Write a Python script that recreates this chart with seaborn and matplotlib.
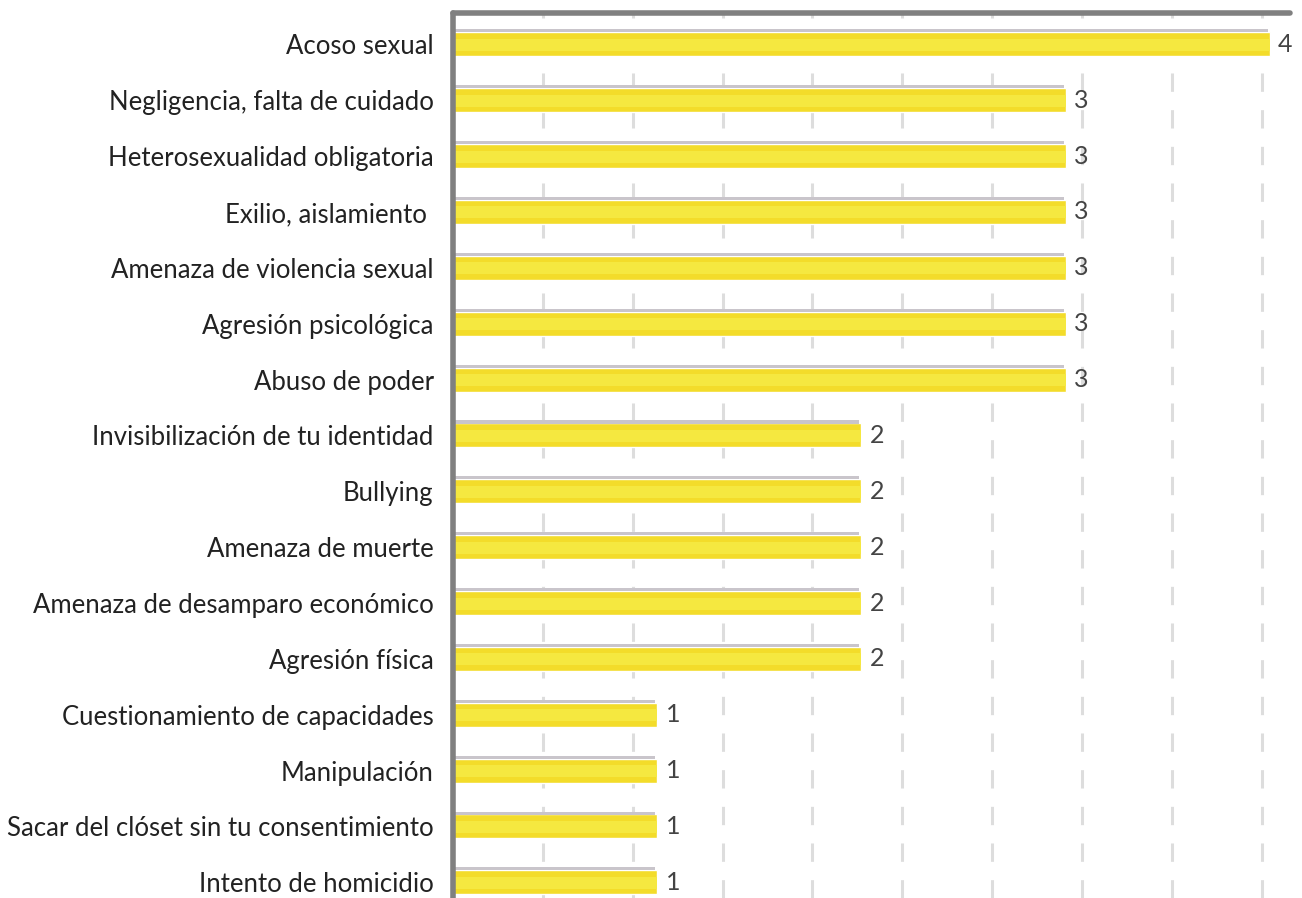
import matplotlib
matplotlib.use("Agg")
import matplotlib.pyplot as plt
import seaborn as sns
import pandas as pd
import numpy as np

# Datos
categorias = [
    "Acoso sexual",
    "Negligencia, falta de cuidado",
    "Heterosexualidad obligatoria",
    "Exilio, aislamiento ",
    "Amenaza de violencia sexual",
    "Agresión psicológica",
    "Abuso de poder",
    "Invisibilización de tu identidad",
    "Bullying",
    "Amenaza de muerte",
    "Amenaza de desamparo económico",
    "Agresión física",
    "Cuestionamiento de capacidades",
    "Manipulación",
    "Sacar del clóset sin tu consentimiento",
    "Intento de homicidio",
]
valores = [4, 3, 3, 3, 3, 3, 3, 2, 2, 2, 2, 2, 1, 1, 1, 1]

df = pd.DataFrame({"categoria": categorias, "valor": valores})

sns.set_theme(style="white")
plt.rcParams["font.family"] = ["Lato", "DejaVu Sans"]

fig = plt.figure(figsize=(13.02, 8.98), dpi=100)
ax = fig.add_axes([0.348, 0.0, 0.643, 0.9855])

alto = 0.43
amarillo_osc = "#F3DC2A"
amarillo = "#F5E840"
gris_borde = "#C9C5CB"

# barra base (franjas oscuras)
sns.barplot(data=df, y="categoria", x="valor", orient="h", color=amarillo_osc,
            width=alto, saturation=1, ax=ax, zorder=3)
barras = ax.containers[0]

pos = np.arange(len(categorias))
# franja central más clara
ax.barh(pos + 0.01, df["valor"], height=alto * 0.5, color=amarillo, zorder=4, linewidth=0)
# borde superior gris
ax.barh(pos - alto / 2 - 0.025, df["valor"] - 0.01, height=0.055, color=gris_borde,
        zorder=4, linewidth=0)

ax.bar_label(barras, labels=[str(v) for v in valores], padding=6,
             fontsize=18, color="#444444", zorder=5)

ax.set_xlim(0, 4.1)
ax.set_ylim(len(categorias) - 0.72, -0.56)

ax.set_xticks(np.arange(1, 10) * 0.44)
ax.set_xticklabels([])
ax.xaxis.grid(True, color="#DDDDDD", linestyle=(0, (6, 6)), linewidth=2.2)
ax.tick_params(axis="x", length=0)
ax.tick_params(axis="y", length=0, labelsize=18.5, labelcolor="#222222", pad=14)

ax.set_xlabel("")
ax.set_ylabel("")

for lado in ["right", "bottom"]:
    ax.spines[lado].set_visible(False)
for lado in ["left", "top"]:
    ax.spines[lado].set_color("#808080")
    ax.spines[lado].set_linewidth(4)
    ax.spines[lado].set_capstyle("round")
    ax.spines[lado].set_zorder(6)

fig.savefig("out.png", dpi=100)
